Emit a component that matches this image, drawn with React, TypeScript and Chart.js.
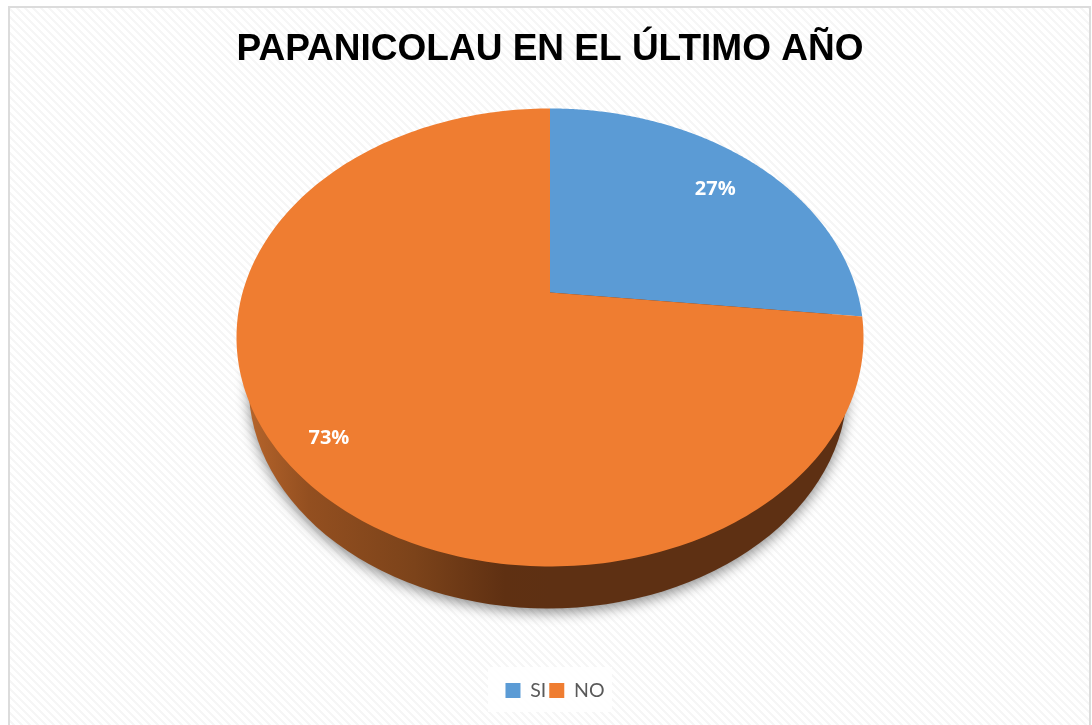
import React, { useEffect, useRef } from "react";
import { Chart, registerables, ArcElement, PieController } from "chart.js";

const TITLE = "PAPANICOLAU EN EL ÚLTIMO AÑO";
const CATEGORIES = ["SI", "NO"];
const VALUES = [26.7, 73.3];
const COLORS = ["#5B9BD5", "#EF7D31"];
const LABEL_RADIUS = [0.78, 0.87];

const STRETCH_X = 1.369;
const TILT = -0.1965;
const EDGE_FACTOR = Math.sqrt(1 - TILT * TILT);

function project(cx: number, cy: number, r: number, ux: number, uy: number) {
  const d = 1 + TILT * uy;
  return {
    x: cx + (r * STRETCH_X * EDGE_FACTOR * ux) / d,
    y: cy + (r * (uy + TILT)) / d,
  };
}

class PerspectiveArc extends ArcElement {
  static id = "perspectiveArc";
  static defaults = { ...ArcElement.defaults };
  draw(ctx: CanvasRenderingContext2D) {
    const { x, y, startAngle, endAngle, outerRadius } = this as any;
    const color = (this as any).options.backgroundColor;
    const steps = 240;
    ctx.save();
    ctx.beginPath();
    const apex = project(x, y, outerRadius, 0, 0);
    ctx.moveTo(apex.x, apex.y);
    for (let i = 0; i <= steps; i++) {
      const a = startAngle + ((endAngle - startAngle) * i) / steps;
      const p = project(x, y, outerRadius, Math.cos(a), Math.sin(a));
      ctx.lineTo(p.x, p.y);
    }
    ctx.closePath();
    ctx.fillStyle = color;
    ctx.fill();
    ctx.restore();
  }
}

class PerspectivePie extends PieController {
  static id = "perspectivePie";
  static defaults = { dataElementType: "perspectiveArc" };
}

Chart.register(...registerables, PerspectiveArc, PerspectivePie);

const backdrop = {
  id: "backdrop",
  beforeDraw(chart: any) {
    const { ctx, width, height } = chart;
    const tile = document.createElement("canvas");
    tile.width = 8;
    tile.height = 8;
    const t = tile.getContext("2d")!;
    t.fillStyle = "#ffffff";
    t.fillRect(0, 0, 8, 8);
    t.fillStyle = "#f6f6f6";
    for (let py = 0; py < 8; py++) {
      for (let px = 0; px < 8; px++) {
        if ((px - py + 16) % 8 < 3) t.fillRect(px, py, 1, 1);
      }
    }
    ctx.save();
    ctx.fillStyle = "#ffffff";
    ctx.fillRect(0, 0, width, height);
    ctx.fillStyle = ctx.createPattern(tile, "repeat");
    ctx.fillRect(9, 7, width - 12, height - 7);
    ctx.fillStyle = "#dcdcdc";
    ctx.fillRect(8, 6, width - 10, 2);
    ctx.fillRect(8, 6, 2, height - 6);
    ctx.fillRect(width - 3, 6, 2, height - 6);
    const lg = chart.legend;
    const mid = (lg.left + lg.right) / 2;
    ctx.fillStyle = "rgba(255,255,255,0.85)";
    ctx.fillRect(mid - 67, 667, 124, 45);
    ctx.restore();
  },
};

const placeLegend = {
  id: "placeLegend",
  afterLayout(chart: any) {
    const lg = chart.legend;
    const h = lg.height;
    lg.left += 5;
    lg.right += 5;
    lg.top = 694 - h / 2;
    lg.bottom = lg.top + h;
  },
};

const pieSide = {
  id: "pieSide",
  beforeDatasetsDraw(chart: any) {
    const arc = chart.getDatasetMeta(0).data[0];
    if (!arc) return;
    const { ctx } = chart;
    const { x, y, outerRadius: r } = arc;
    const rx = r * STRETCH_X * 0.955;
    const ry = r * 0.974;
    const cy = y + r + 42 - ry;
    const cx = x - 2;
    const g = ctx.createLinearGradient(cx - rx, 0, x, 0);
    g.addColorStop(0, "#b5642b");
    g.addColorStop(0.2, "#934f20");
    g.addColorStop(0.55, "#7c431a");
    g.addColorStop(0.85, "#5f3012");
    g.addColorStop(1, "#5e3013");
    ctx.save();
    ctx.shadowColor = "rgba(0,0,0,0.45)";
    ctx.shadowBlur = 13;
    ctx.shadowOffsetY = 4;
    ctx.fillStyle = g;
    ctx.beginPath();
    ctx.ellipse(cx, cy, rx, ry, 0, 0, Math.PI * 2);
    ctx.fill();
    ctx.restore();
  },
};

const sliceLabels = {
  id: "sliceLabels",
  afterDatasetsDraw(chart: any) {
    const { ctx } = chart;
    ctx.save();
    ctx.font = 'bold 20px "Open Sans"';
    ctx.fillStyle = "#ffffff";
    ctx.textAlign = "center";
    ctx.textBaseline = "middle";
    chart.getDatasetMeta(0).data.forEach((arc: any, i: number) => {
      const mid = (arc.startAngle + arc.endAngle) / 2;
      const f = LABEL_RADIUS[i];
      const p = project(arc.x, arc.y, arc.outerRadius, f * Math.cos(mid), f * Math.sin(mid));
      ctx.fillText(`${Math.round(VALUES[i])}%`, p.x + 3.5, p.y + 1);
    });
    ctx.restore();
  },
};

export default function App() {
  const ref = useRef<HTMLCanvasElement>(null);
  useEffect(() => {
    const chart = new Chart(ref.current!, {
      type: "perspectivePie" as any,
      data: {
        labels: CATEGORIES,
        datasets: [{ data: VALUES, backgroundColor: COLORS, borderWidth: 0 }],
      },
      options: {
        responsive: false,
        animation: false,
        radius: 229,
        layout: { padding: { left: 8, right: 0, top: 0, bottom: 98 } },
        plugins: {
          title: {
            display: true,
            text: TITLE,
            color: "#000000",
            font: { family: "Liberation Sans", size: 37, weight: "bold" },
            padding: { top: 28, bottom: 8 },
          },
          legend: {
            position: "bottom",
            labels: {
              boxWidth: 15,
              boxHeight: 15,
              padding: 3,
              color: "#595959",
              font: { family: "Lato", size: 19.5 },
            },
          },
          tooltip: { enabled: false },
        },
      } as any,
      plugins: [backdrop, placeLegend, pieSide, sliceLabels],
    });
    return () => chart.destroy();
  }, []);
  return (
    <div>
      <canvas
        ref={ref}
        width={1092}
        height={725}
        style={{ position: "fixed", left: 0, top: 0, display: "block" }}
      />
    </div>
  );
}
